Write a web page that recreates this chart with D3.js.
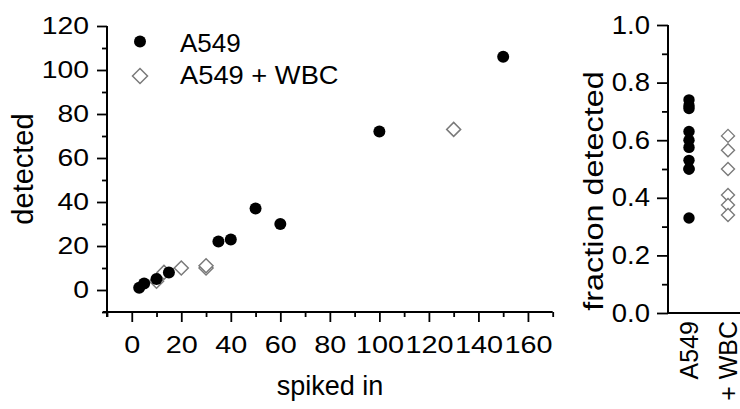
<!DOCTYPE html>
<html>
<head>
<meta charset="utf-8">
<script src="https://cdn.jsdelivr.net/npm/d3@7"></script>
<style>
  body { margin: 0; background: #fff; }
  svg { display: block; font-family: "Liberation Sans", Arial, sans-serif; }
  .tick line { stroke: #000; stroke-width: 1.8; }
</style>
</head>
<body>
<script>
// left panel: spiked in vs detected
var a549Spiked = [3, 5, 10, 15, 35, 40, 50, 60, 100, 150],
    a549Detected = [1, 3, 5, 8, 22, 23, 37, 30, 72, 106],
    wbcSpiked = [10, 13, 20, 30, 30, 130],
    wbcDetected = [4, 8, 10, 10, 11, 73];

// right panel: fraction detected
var groups = ['A549', 'A549 + WBC'],
    a549Fraction = [0.74, 0.72, 0.71, 0.63, 0.60, 0.575, 0.53, 0.50, 0.50, 0.33],
    wbcFraction = [0.615, 0.565, 0.50, 0.41, 0.375, 0.34];

var xTicks = [0, 20, 40, 60, 80, 100, 120, 140, 160],
    xMinor = [-10, 10, 30, 50, 70, 90, 110, 130, 150, 170],
    yTicks = [0, 20, 40, 60, 80, 100, 120],
    yMinor = [-10, 10, 30, 50, 70, 90, 110],
    fTicks = [0, 0.2, 0.4, 0.6, 0.8, 1.0],
    fMinor = [0.1, 0.3, 0.5, 0.7, 0.9];

var w = 740, h = 409,
    grey = '#7a7a7a';

var svg = d3.select('body').append('svg')
  .attr('width', w)
  .attr('height', h);

// widen glyphs a bit, the original text is drawn wider than Arial
function stretch(sel, k) {
  sel.each(function() {
    var len = this.getComputedTextLength();
    d3.select(this).attr('textLength', len * k).attr('lengthAdjust', 'spacingAndGlyphs');
  });
}

function diamond(r) {
  return 'M0,' + (-r) + 'L' + r + ',0L0,' + r + 'L' + (-r) + ',0Z';
}

//---------- left panel
var x = d3.scaleLinear().domain([-10, 170]).range([107, 552.7]),
    y = d3.scaleLinear().domain([-10, 120]).range([312, 26]);

var gx = svg.append('g').attr('transform', 'translate(0,' + y(-10) + ')');
gx.call(d3.axisBottom(x).tickValues(xTicks).tickSize(10).tickPadding(14));
gx.append('g').call(d3.axisBottom(x).tickValues(xMinor).tickSize(5).tickFormat(''));
gx.selectAll('.domain').remove();
gx.selectAll('text').attr('fill', '#000').style('font-size', '24px').call(stretch, 1.2);

var gy = svg.append('g').attr('transform', 'translate(' + x(-10) + ',0)');
gy.call(d3.axisLeft(y).tickValues(yTicks).tickSize(10).tickPadding(8));
gy.append('g').call(d3.axisLeft(y).tickValues(yMinor).tickSize(5).tickFormat(''));
gy.selectAll('.domain').remove();
gy.selectAll('text').attr('fill', '#000').style('font-size', '24px').call(stretch, 1.18);

// axis lines, crossing a little at the corner
svg.append('line')
  .attr('x1', x(-10) - 4).attr('x2', x(170))
  .attr('y1', y(-10)).attr('y2', y(-10))
  .attr('stroke', '#000').attr('stroke-width', 2);
svg.append('line')
  .attr('x1', x(-10)).attr('x2', x(-10))
  .attr('y1', y(120)).attr('y2', y(-10) + 5)
  .attr('stroke', '#000').attr('stroke-width', 2);

// points
svg.selectAll('path.wbc')
  .data(wbcSpiked)
  .enter()
  .append('path')
  .classed('wbc', true)
  .attr('d', diamond(7))
  .attr('transform', function(d, i) {
    return 'translate(' + x(d) + ',' + y(wbcDetected[i]) + ')';
  })
  .attr('fill', '#fff')
  .attr('stroke', grey)
  .attr('stroke-width', 1.5);

svg.selectAll('circle.a549')
  .data(a549Spiked)
  .enter()
  .append('circle')
  .classed('a549', true)
  .attr('cx', function(d) { return x(d); })
  .attr('cy', function(d, i) { return y(a549Detected[i]); })
  .attr('r', 6)
  .attr('fill', '#000');

// legend
svg.append('circle').attr('cx', 140).attr('cy', 41.5).attr('r', 6).attr('fill', '#000');
svg.append('path').attr('d', diamond(7.5)).attr('transform', 'translate(140,76)')
  .attr('fill', '#fff').attr('stroke', grey).attr('stroke-width', 1.5);
svg.append('text').attr('x', 180).attr('y', 51.5).text('A549').style('font-size', '26px');
svg.append('text').attr('x', 180).attr('y', 84).text('A549 + WBC').style('font-size', '26px')
  .call(stretch, 1.05);

// titles
svg.append('text')
  .attr('x', 330).attr('y', 395)
  .attr('text-anchor', 'middle')
  .style('font-size', '27px')
  .text('spiked in');
svg.append('text')
  .attr('transform', 'translate(33,169) rotate(-90)')
  .attr('text-anchor', 'middle')
  .style('font-size', '29px')
  .text('detected');

//---------- right panel
var fx = d3.scalePoint().domain(groups).range([689, 728]),
    fy = d3.scaleLinear().domain([0, 1]).range([313, 25]);

var fgy = svg.append('g').attr('transform', 'translate(668,0)');
fgy.call(d3.axisLeft(fy).tickValues(fTicks).tickSize(11).tickPadding(7).tickFormat(d3.format('.1f')));
fgy.append('g').call(d3.axisLeft(fy).tickValues(fMinor).tickSize(6).tickFormat(''));
fgy.selectAll('.domain').remove();
fgy.selectAll('text').attr('fill', '#000').style('font-size', '25px').call(stretch, 1.1);

svg.append('line')
  .attr('x1', 668).attr('x2', 668)
  .attr('y1', fy(1)).attr('y2', fy(0) + 1)
  .attr('stroke', '#000').attr('stroke-width', 2);
svg.append('line')
  .attr('x1', 667).attr('x2', w)
  .attr('y1', fy(0)).attr('y2', fy(0))
  .attr('stroke', '#000').attr('stroke-width', 2);

svg.selectAll('path.fwbc')
  .data(wbcFraction)
  .enter()
  .append('path')
  .classed('fwbc', true)
  .attr('d', diamond(6.5))
  .attr('transform', function(d) {
    return 'translate(' + fx('A549 + WBC') + ',' + fy(d) + ')';
  })
  .attr('fill', '#fff')
  .attr('stroke', grey)
  .attr('stroke-width', 1.4);

svg.selectAll('circle.fa549')
  .data(a549Fraction)
  .enter()
  .append('circle')
  .classed('fa549', true)
  .attr('cx', fx('A549'))
  .attr('cy', function(d) { return fy(d); })
  .attr('r', 5.7)
  .attr('fill', '#000');

// category labels, rotated
svg.selectAll('text.cat')
  .data(groups)
  .enter()
  .append('text')
  .classed('cat', true)
  .attr('transform', function(d) { return 'translate(' + fx(d) + ',321) rotate(-90)'; })
  .attr('dy', '0.36em')
  .attr('text-anchor', 'end')
  .style('font-size', '25px')
  .text(function(d) { return d; });

svg.append('text')
  .attr('transform', 'translate(603,191) rotate(-90)')
  .attr('text-anchor', 'middle')
  .style('font-size', '27px')
  .text('fraction detected')
  .call(stretch, 1.2);
</script>
</body>
</html>
